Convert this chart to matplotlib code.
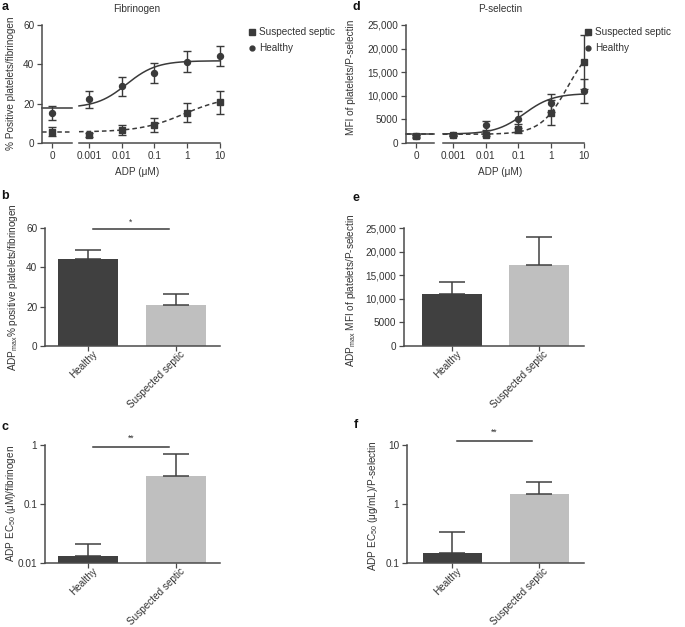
import numpy as np
import matplotlib
matplotlib.use("Agg")
import matplotlib.pyplot as plt
import matplotlib.transforms as mtrans
from matplotlib.lines import Line2D

plt.rcParams['font.family'] = ['Liberation Sans', 'DejaVu Sans']
plt.rcParams['mathtext.fontset'] = 'custom'
plt.rcParams['mathtext.rm'] = 'Liberation Sans'
plt.rcParams['mathtext.it'] = 'Liberation Sans'

# ---------------- data ----------------
doses = [0.001, 0.01, 0.1, 1, 10]
dose_labels = ["0.001", "0.01", "0.1", "1", "10"]

# panel a: fibrinogen (% positive platelets)
fib_septic_zero, fib_septic_zero_err = 5.8, 2.4
fib_septic = [4.3, 6.6, 9.1, 15.5, 20.8]
fib_septic_err = [1.0, 2.6, 3.7, 4.7, 5.8]
fib_healthy_zero, fib_healthy_zero_err = 15.2, 3.7
fib_healthy = [22.2, 28.8, 35.6, 41.3, 44.2]
fib_healthy_err = [4.4, 4.9, 4.9, 5.4, 5.1]
# fitted dose-response (bottom, top, EC50, hill)
fib_healthy_fit = (17.9, 41.8, 0.014, 0.95)
fib_septic_fit = (5.6, 24.0, 0.8, 0.65)

# panel d: P-selectin (MFI)
psel_septic_zero, psel_septic_zero_err = 1500, 250
psel_septic = [1600, 1650, 3050, 6450, 17200]
psel_septic_err = [200, 250, 900, 2700, 5700]
psel_healthy_zero, psel_healthy_zero_err = 1400, 250
psel_healthy = [1650, 3750, 5000, 8400, 11000]
psel_healthy_err = [200, 900, 1800, 1900, 2500]
psel_healthy_fit = (1900, 10500, 0.15, 1.0)
psel_septic_fit = (1850, 22000, 3.2, 1.05)

groups = ["Healthy", "Suspected septic"]
# panel b: ADPmax fibrinogen
b_vals = [44.2, 20.7]
b_err = [4.7, 5.5]
# panel e: ADPmax P-selectin
e_vals = [11000, 17100]
e_err = [2500, 5900]
# panel c: EC50 fibrinogen (value, upper error end)
c_vals = [0.0133, 0.30]
c_top = [0.0207, 0.70]
# panel f: EC50 P-selectin
f_vals = [0.148, 1.5]
f_top = [0.33, 2.36]

# ---------------- styling ----------------
W, H = 685, 627
DARK = "#3a3a3a"
AX = "#4a4a4a"
TXT = "#333333"
BAR_DARK = "#404040"
BAR_LIGHT = "#bfbfbf"
FS = 7.2

fig = plt.figure(figsize=(W / 100, H / 100), dpi=100)


def box(l, t, r, b):
    return [l / W, 1 - b / H, (r - l) / W, (b - t) / H]


def style(ax, left=True):
    for s in ["top", "right"]:
        ax.spines[s].set_visible(False)
    for s in ["left", "bottom"]:
        ax.spines[s].set_color(AX)
        ax.spines[s].set_linewidth(1.1)
    if not left:
        ax.spines["left"].set_visible(False)
        ax.tick_params(axis="y", left=False, labelleft=False)
    ax.tick_params(direction="out", length=3.5, width=0.9, colors=AX,
                   labelcolor=TXT, labelsize=FS, pad=2)
    ax.minorticks_off()


def set_ylab(ax, text, px_x, px_y, bx):
    ax.set_ylabel(text, fontsize=FS, color=TXT, va="center", ha="center")
    ax.yaxis.set_label_coords((px_x - bx[0]) / (bx[2] - bx[0]),
                              (bx[3] - px_y) / (bx[3] - bx[1]))


def hill(x, p):
    bottom, top, ec50, h = p
    x = np.asarray(x, float)
    return bottom + (top - bottom) / (1 + (ec50 / x) ** h)


def curve_panel(lbox, rbox, ylim, yticks, yticklabels, z0, ylabel_text, ylabel_xy,
                title, title_x, sep, sep_err, sep0, sep0_err, hea, hea_err, hea0, hea0_err,
                fit_h, fit_s, lxlim, legend_x):
    axl = fig.add_axes(box(*lbox))
    axr = fig.add_axes(box(*rbox))
    style(axl)
    style(axr, left=False)
    for ax in (axl, axr):
        ax.set_ylim(*ylim)
    axl.set_yticks(yticks)
    axl.set_yticklabels(yticklabels)
    axl.set_xlim(*lxlim)
    axl.set_xticks([0])
    axl.set_xticklabels(["0"])
    axr.set_xscale("log")
    axr.minorticks_off()
    axr.set_xlim(10 ** (-3 - z0), 10)
    axr.set_xticks(doses)
    axr.set_xticklabels(dose_labels)
    axr.tick_params(axis="x", which="minor", bottom=False)

    ekw = dict(capsize=2.9, elinewidth=1.0, capthick=1.0, ecolor=DARK, color=DARK,
               linestyle="none", clip_on=False, zorder=4)
    axl.plot([lxlim[0], lxlim[1]], [fit_h[0]] * 2, color=DARK, lw=1.1, clip_on=False)
    axl.plot([lxlim[0], lxlim[1]], [fit_s[0]] * 2, color=DARK, lw=1.1, ls=(0, (3, 2)), clip_on=False)
    axl.errorbar([0], [hea0], yerr=[hea0_err], marker="o", ms=4.3, **ekw)
    axl.errorbar([0], [sep0], yerr=[sep0_err], marker="s", ms=4.3, **ekw)
    xs = np.logspace(-3 - z0, 1, 300)
    axr.plot(xs, hill(xs, fit_h), color=DARK, lw=1.1, clip_on=False)
    axr.plot(xs, hill(xs, fit_s), color=DARK, lw=1.1, ls=(0, (3, 2)), clip_on=False)
    axr.errorbar(doses, hea, yerr=hea_err, marker="o", ms=4.3, **ekw)
    axr.errorbar(doses, sep, yerr=sep_err, marker="s", ms=4.3, **ekw)

    set_ylab(axl, ylabel_text, ylabel_xy[0], ylabel_xy[1], lbox)
    fig.text(title_x / W, 1 - 9 / H, title, ha="center", va="center", fontsize=FS, color=TXT)
    fig.text(title_x / W, 1 - 172 / H, "ADP (μM)", ha="center", va="center", fontsize=FS, color=TXT)

    handles = [Line2D([], [], marker="s", ls="none", color=DARK, ms=4.0),
               Line2D([], [], marker="o", ls="none", color=DARK, ms=3.5)]
    leg = fig.legend(handles, ["Suspected septic", "Healthy"], loc="upper left",
                     bbox_to_anchor=(legend_x / W, 1 - 27 / H), frameon=False,
                     fontsize=FS, handlelength=0.6, handletextpad=0.4,
                     labelspacing=0.6, borderaxespad=0, borderpad=0)
    for t in leg.get_texts():
        t.set_color(TXT)
    return axl, axr


def bar_panel(bx, ylim, vals, errs=None, tops=None, log=False, yticks=None, yticklabels=None,
              ylabel_text="", ylabel_xy=(0, 0), xlim=(-0.49, 1.5)):
    ax = fig.add_axes(box(*bx))
    style(ax)
    if log:
        ax.set_yscale("log")
    ax.set_ylim(*ylim)
    ax.set_xlim(*xlim)
    x = np.arange(len(vals))
    base = ylim[0]
    ax.bar(x, np.array(vals) - base, bottom=base, width=0.68,
           color=[BAR_DARK, BAR_LIGHT], zorder=2)
    if tops is not None:
        up = np.array(tops) - np.array(vals)
    else:
        up = np.array(errs)
    ax.errorbar(x, vals, yerr=[np.zeros(len(vals)), up], fmt="none", ecolor=BAR_DARK,
                elinewidth=1.1, capsize=9.6, capthick=1.1, zorder=3)
    ax.set_xticks(x)
    ax.set_xticklabels(groups, rotation=45, ha="right", va="top", rotation_mode="anchor")
    ax.tick_params(axis="x", pad=0)
    shift = mtrans.ScaledTranslation(4 / 100, 2 / 100, fig.dpi_scale_trans)
    for lab in ax.get_xticklabels():
        lab.set_transform(lab.get_transform() + shift)
    ax.set_yticks(yticks)
    ax.set_yticklabels(yticklabels)
    ax.minorticks_off()
    set_ylab(ax, ylabel_text, ylabel_xy[0], ylabel_xy[1], bx)
    return ax


def sig(x0, x1, y, ys, text):
    fig.add_artist(Line2D([x0 / W, x1 / W], [1 - y / H] * 2, color=DARK, lw=1.1))
    fig.text((x0 + x1) / 2 / W, 1 - ys / H, text, ha="center", va="center", fontsize=FS - 1, color=TXT)


# ---- panel a ----
curve_panel((42, 25, 72, 143), (79, 25, 220, 143), (0, 60), [0, 20, 40, 60],
            ["0", "20", "40", "60"], 10 / 33, "% Positive platelets/fibrinogen", (11, 83),
            "Fibrinogen", 137, fib_septic, fib_septic_err, fib_septic_zero, fib_septic_zero_err,
            fib_healthy, fib_healthy_err, fib_healthy_zero, fib_healthy_zero_err,
            fib_healthy_fit, fib_septic_fit, (-1, 2), 249)

# ---- panel d ----
curve_panel((406, 25, 434, 143), (443, 25, 584, 143), (0, 25000),
            [0, 5000, 10000, 15000, 20000, 25000],
            ["0", "5000", "10,000", "15,000", "20,000", "25,000"], 10 / 33,
            "MFI of platelets/P-selectin", (351, 77), "P-selectin", 500,
            psel_septic, psel_septic_err, psel_septic_zero, psel_septic_zero_err,
            psel_healthy, psel_healthy_err, psel_healthy_zero, psel_healthy_zero_err,
            psel_healthy_fit, psel_septic_fit, (-1, 1.8), 585)

# ---- panel b ----
bar_panel((45, 228, 220, 346), (0, 60), b_vals, errs=b_err, yticks=[0, 20, 40, 60],
          yticklabels=["0", "20", "40", "60"],
          ylabel_text=r"ADP$_{\mathrm{max}}$% positive platelets/fibrinogen", ylabel_xy=(13, 287))
sig(93, 169, 229, 222, "*")

# ---- panel e ----
bar_panel((404, 228, 584, 346), (0, 25000), e_vals, errs=e_err,
          yticks=[0, 5000, 10000, 15000, 20000, 25000],
          yticklabels=["0", "5000", "10,000", "15,000", "20,000", "25,000"],
          ylabel_text=r"ADP$_{\mathrm{max}}$ MFI of platelets/P-selectin", ylabel_xy=(351, 290),
          xlim=(-0.55, 1.517))

# ---- panel c ----
bar_panel((45, 445, 220, 563), (0.01, 1), c_vals, tops=c_top, log=True,
          yticks=[0.01, 0.1, 1], yticklabels=["0.01", "0.1", "1"],
          ylabel_text=r"ADP EC$_{50}$ (μM)/fibrinogen", ylabel_xy=(11, 503))
sig(93, 169, 447, 438, "**")

# ---- panel f ----
bar_panel((407, 445, 584, 563), (0.1, 10), f_vals, tops=f_top, log=True,
          yticks=[0.1, 1, 10], yticklabels=["0.1", "1", "10"],
          ylabel_text=r"ADP EC$_{50}$ (μg/mL)/P-selectin", ylabel_xy=(373, 506),
          xlim=(-0.52, 1.517))
sig(457, 532, 441, 432, "**")

# panel letters
for letter, px, py in [("a", 5, 7), ("b", 5, 196), ("c", 5, 427),
                       ("d", 356, 7), ("e", 356, 198), ("f", 356, 425)]:
    fig.text(px / W, 1 - py / H, letter, fontsize=9, fontweight="bold", color="#111111",
             ha="center", va="center")

fig.savefig("out.png", dpi=100)
